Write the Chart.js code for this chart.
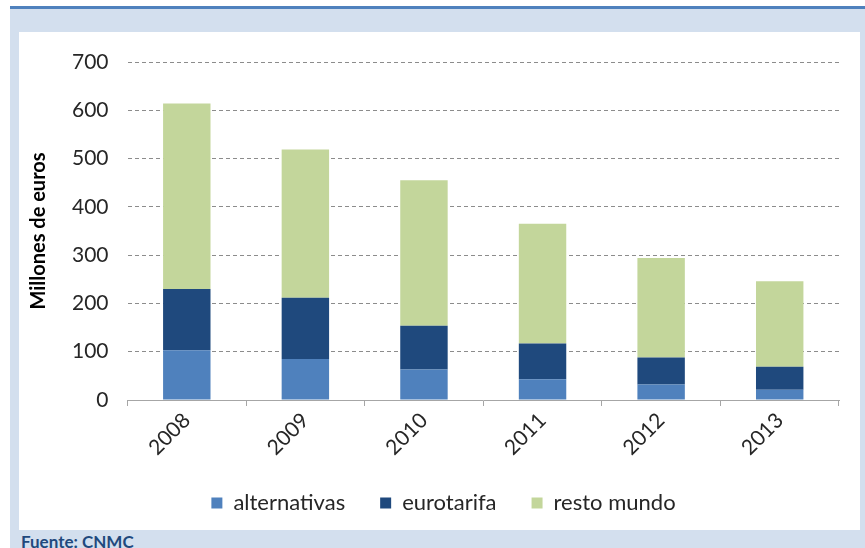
<!DOCTYPE html>
<html>
<head>
<meta charset="utf-8">
<script src="https://cdn.jsdelivr.net/npm/chart.js@4/dist/chart.umd.min.js"></script>
<style>
  body { margin: 0; width: 865px; height: 548px; overflow: hidden; background: #fff; position: relative; }
  .frame { position: absolute; left: 10px; top: 6px; width: 855px; height: 542px; background: #d3dfee; border-top: 3px solid #4f81bd; }
  .panel { position: absolute; left: 19px; top: 32px; width: 841px; height: 498px; background: #fff; }
  .source { position: absolute; left: 21px; top: 531px; font: bold 17px Lato, sans-serif; color: #1f497d; }
  canvas { position: absolute; left: 0; top: 0; }
</style>
</head>
<body>
<div class="frame"></div>
<div class="panel"></div>
<div class="source">Fuente: CNMC</div>
<canvas id="chart" width="865" height="548"></canvas>
<script>
const years = ['2008', '2009', '2010', '2011', '2012', '2013'];
const alternativas = [103, 85, 63, 43, 32, 21];
const eurotarifa = [127, 127, 91, 74, 56, 48];
const restoMundo = [384, 307, 301, 248, 206, 177];
const yTicks = [0, 100, 200, 300, 400, 500, 600, 700];

const textColor = '#262626';

const data = {
  labels: years,
  datasets: [
    { label: 'alternativas', data: alternativas, backgroundColor: '#4f81bd' },
    { label: 'eurotarifa', data: eurotarifa, backgroundColor: '#1f497d' },
    { label: 'resto mundo', data: restoMundo, backgroundColor: '#c3d69b' }
  ]
};

// legend sits a little right of centre in the original
const legendShift = {
  id: 'legendShift',
  afterLayout(chart) {
    chart.legend.left += 14;
    chart.legend.right += 14;
  }
};

const config = {
  type: 'bar',
  data: data,
  plugins: [legendShift],
  options: {
    responsive: false,
    animation: false,
    datasets: { bar: { barPercentage: 0.4, categoryPercentage: 1 } },
    layout: { padding: { left: 20, right: 26, top: 62, bottom: 24 } },
    plugins: {
      tooltip: { enabled: false },
      legend: {
        position: 'bottom',
        labels: {
          color: textColor,
          font: { family: 'Lato', size: 22 },
          boxWidth: 11,
          boxHeight: 11,
          padding: 35
        }
      }
    },
    scales: {
      x: {
        stacked: true,
        afterFit: (s) => { s.height = 57; },
        grid: { offset: true, drawOnChartArea: false, drawTicks: true, tickLength: 6, color: '#a6a6a6' },
        border: { display: true, color: '#a6a6a6' },
        ticks: { color: textColor, font: { family: 'Lato', size: 21 }, minRotation: 45, maxRotation: 45, padding: 2 }
      },
      y: {
        stacked: true,
        min: 0,
        max: 700,
        afterFit: (s) => { s.width = 107.5; },
        afterBuildTicks: (s) => { s.ticks = yTicks.map(v => ({ value: v })); },
        grid: { drawTicks: false, color: '#8c8c8c', lineWidth: 1 },
        border: { display: false, dash: [4, 3] },
        ticks: { color: textColor, font: { family: 'Lato', size: 21 }, padding: 19 },
        title: {
          display: true,
          text: 'Millones de euros',
          color: '#000',
          font: { family: 'Lato', size: 20, weight: 'bold' },
          padding: { top: 7, bottom: 0 }
        }
      }
    }
  }
};

new Chart(document.getElementById('chart'), config);
</script>
</body>
</html>
